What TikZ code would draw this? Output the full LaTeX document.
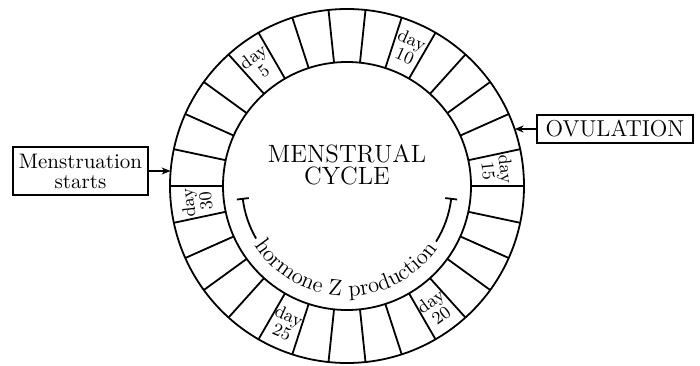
\documentclass[tikz,border=0pt]{standalone}
\usetikzlibrary{decorations.text,arrows.meta,calc}
\begin{document}
\begin{tikzpicture}[x=0.5pt,y=0.5pt,
  ringline/.style={line width=0.9pt},
  daylbl/.style={font=\fontsize{9}{7.5}\selectfont, align=center, inner sep=0pt},
  boxnode/.style={draw, line width=1pt, inner sep=0pt, align=center},
  arr/.style={line width=1pt, -{Stealth[length=4.5pt,width=3.5pt]}}]
\useasboundingbox (0,0) rectangle (700,365);
\coordinate (c) at (347,179);
% ring
\draw[ringline] (c) circle[radius=177];
\draw[ringline] (c) circle[radius=124];
\foreach \k in {0,...,29}
  \draw[ringline] ($(c)+({\k*12}:124)$) -- ($(c)+({\k*12}:177)$);
% day labels
\foreach \dn/\rot in {5/36,10/-24,15/-84,20/36,25/-24,30/96}
  \node[daylbl, rotate=\rot] (d\dn) at ($(c)+({186-12*\dn}:151)$) {day\\\dn};
% centre title
\node[align=center, font=\fontsize{12.5}{10.75}\selectfont] (title) at (347,200) {MENSTRUAL\\CYCLE};
% hormone Z bracket
\draw[ringline] ($(c)+(-173:105)$) arc[start angle=-173, end angle=-150, radius=105];
\draw[ringline] ($(c)+(-32:105)$) arc[start angle=-32, end angle=-7, radius=105];
\draw[ringline] ($(c)+(-173:99)$) -- ($(c)+(-173:111)$);
\draw[ringline] ($(c)+(-7:99)$) -- ($(c)+(-7:111)$);
\path[decorate, decoration={text along path, text align=center,
  text={|\fontsize{11.3}{13}\selectfont|hormone Z production}}]
  ($(c)+(-151:110)$) arc[start angle=-151, end angle=-31, radius=110];
% boxes and arrows
\node[boxnode, minimum width=67.5pt, minimum height=24pt, font=\fontsize{10.5}{10}\selectfont] (mens) at (80.5,194) {Menstruation\\starts};
\coordinate (mtip) at (170.6,194);
\draw[arr] (mens.east) -- (mtip);
\node[boxnode, minimum width=78pt, minimum height=14pt, font=\fontsize{11.5}{12}\selectfont] (ovul) at (615,236) {OVULATION};
\coordinate (otip) at (514.6,236);
\draw[arr] (ovul.west) -- (otip);
\end{tikzpicture}
\end{document}
